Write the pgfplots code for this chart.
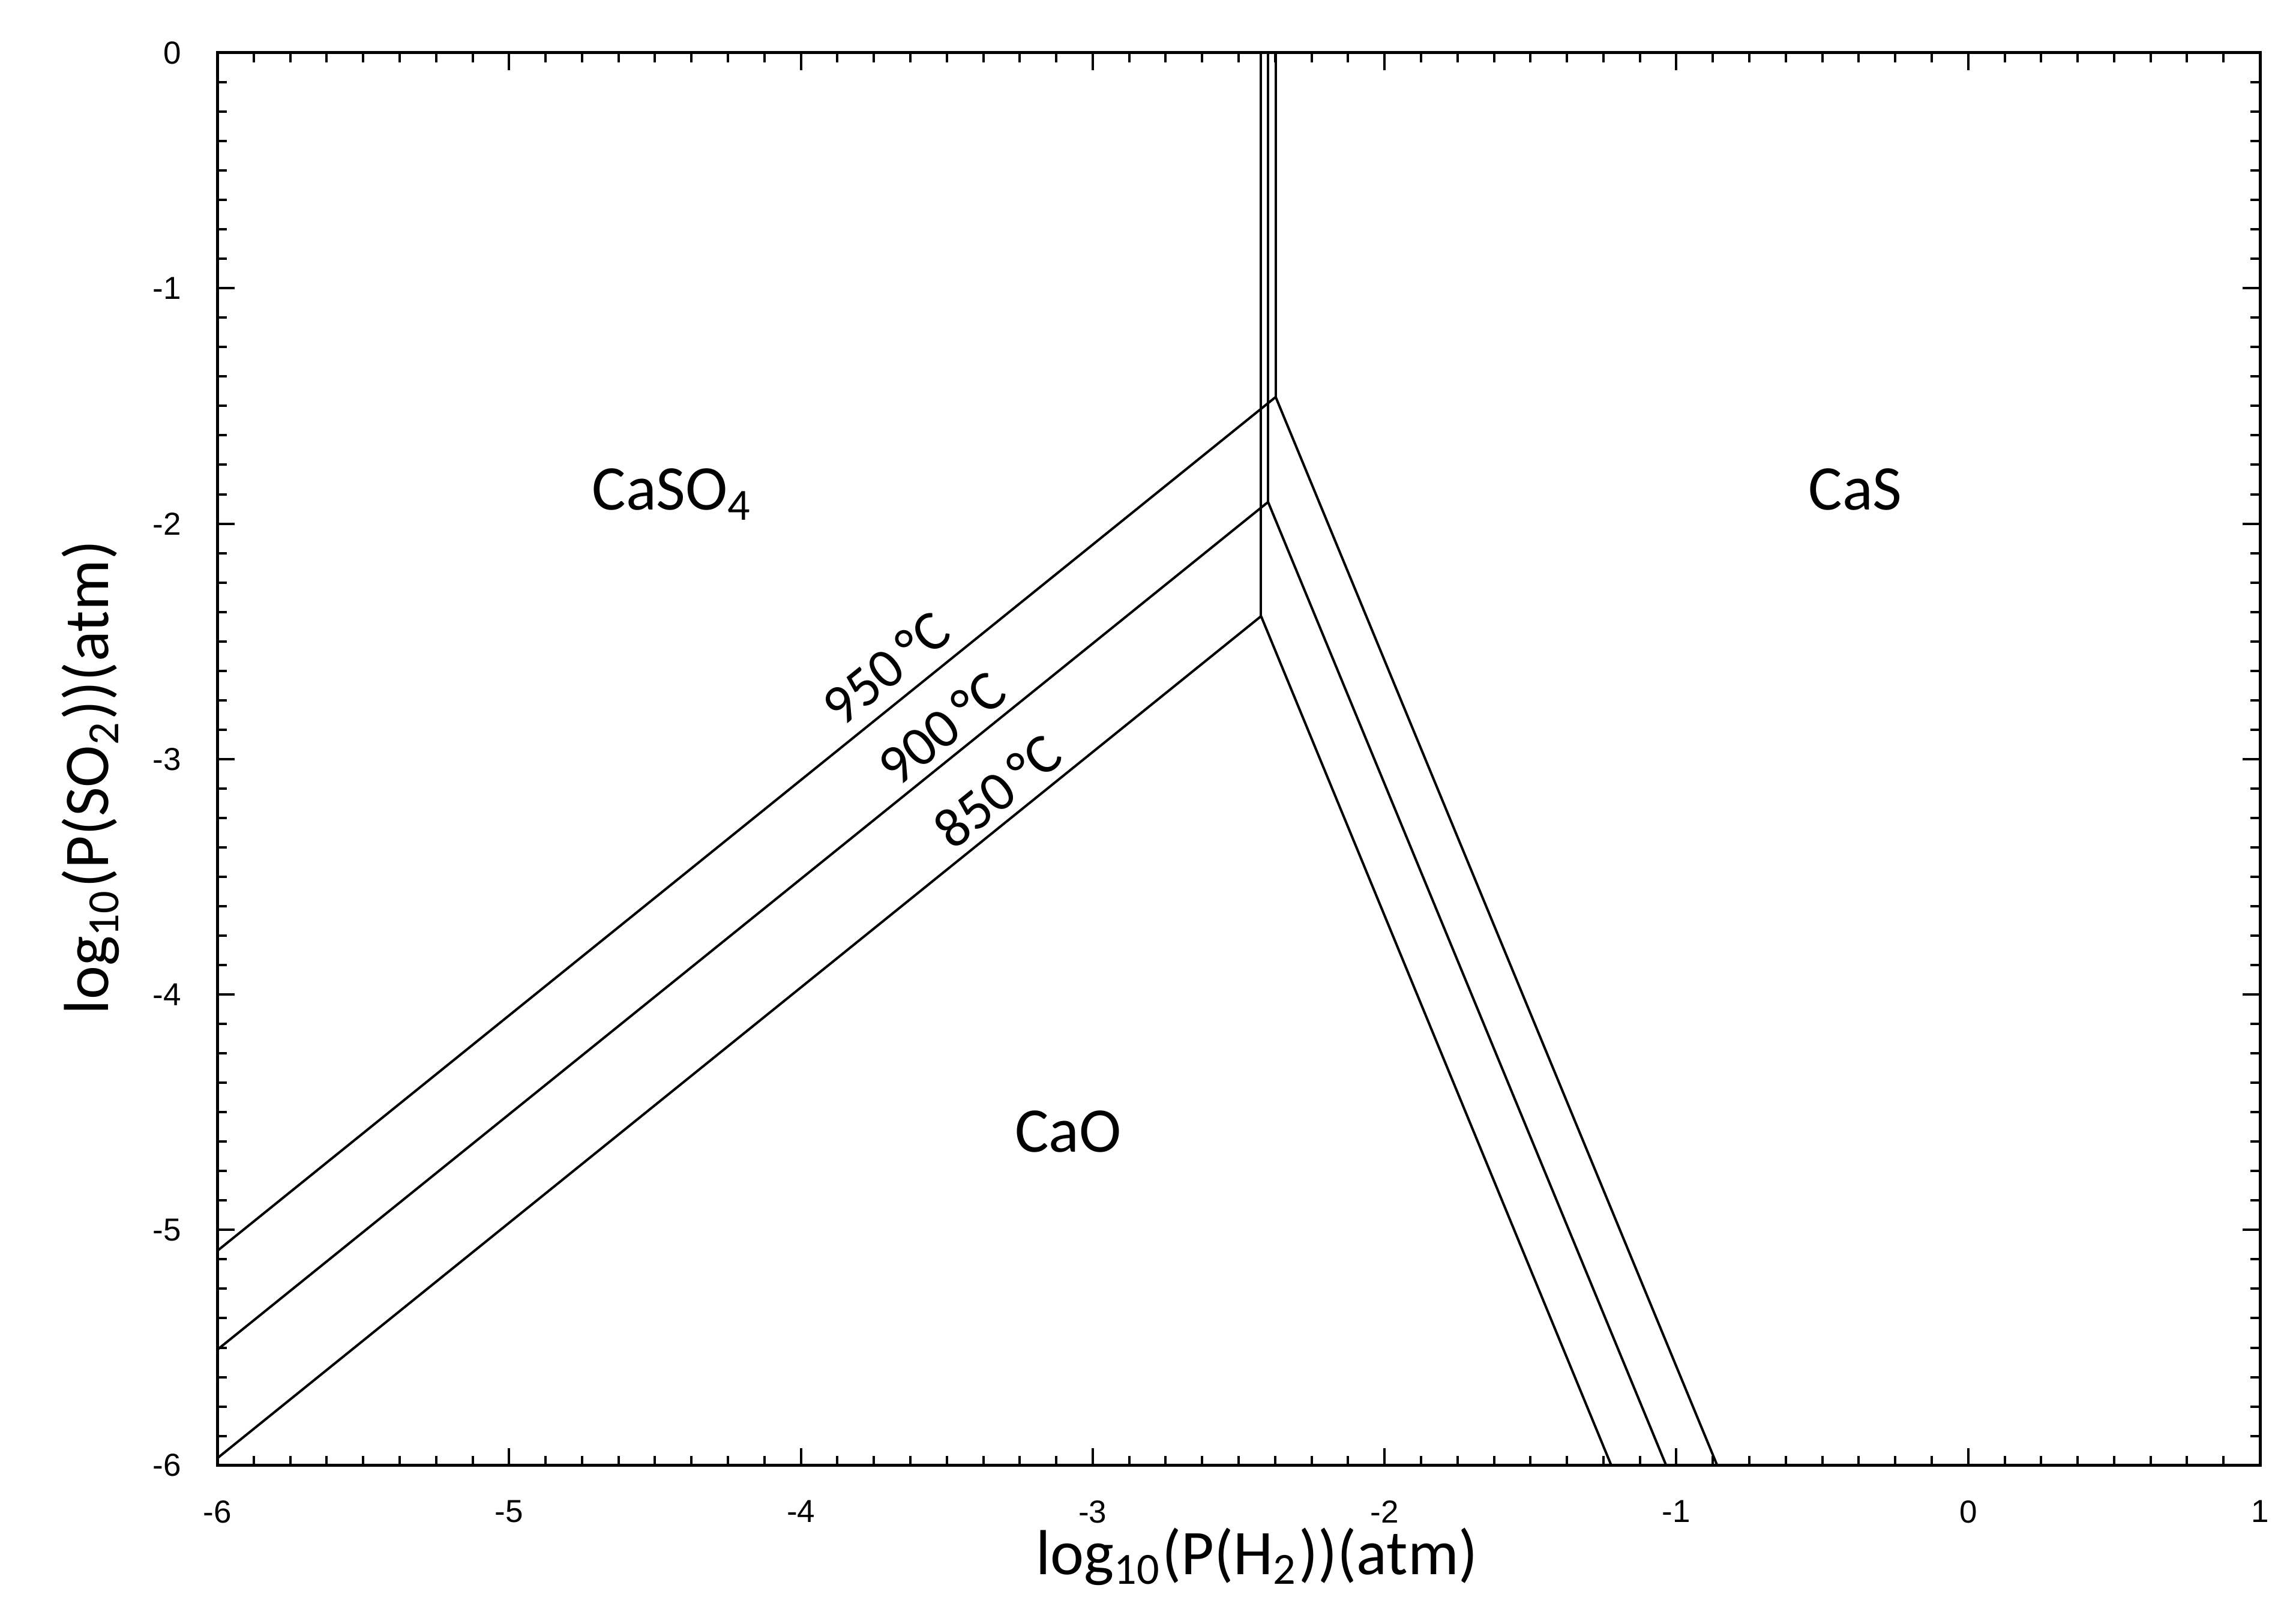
\documentclass[border=0pt]{standalone}
\usepackage{pgfplots}
\pgfplotsset{compat=1.18}
\usepackage{fontspec}
\setmainfont{Carlito}
\newfontfamily\tickfont{Liberation Sans}

\begin{document}
\begin{tikzpicture}
\begin{axis}[
  name=ax,
  scale only axis,
  width=340.4pt, height=235.37pt,
  xmin=-6, xmax=1, ymin=-6, ymax=0,
  xtick={-6,-5,-4,-3,-2,-1,0,1},
  ytick={-6,-5,-4,-3,-2,-1,0},
  xticklabels={-6,-5,-4,-3,-2,-1,0,1},
  yticklabels={-6,-5,-4,-3,-2,-1,0},
  minor tick num=7,
  tick align=inside,
  tick pos=both,
  xticklabel pos=lower, yticklabel pos=left,
  major tick length=2.9pt, minor tick length=1.6pt,
  every tick/.style={black, line width=0.4pt},
  axis line style={line width=0.5pt},
  tick label style={font=\tickfont\fontsize{5.3}{6}\selectfont},
  xticklabel style={yshift=-2.3pt},
  yticklabel style={xshift=-2.5pt},
  xlabel={log\textsubscript{10}(P(H\textsubscript{2}))(atm)},
  ylabel={log\textsubscript{10}(P(SO\textsubscript{2}))(atm)},
  label style={font=\fontsize{10.6}{13}\selectfont},
  xlabel style={at={(axis description cs:0.509,-0.0646)}, anchor=center},
  ylabel style={at={(axis description cs:-0.062,0.487)}, anchor=center},
]
% 850 C
\addplot[black, line width=0.4pt] coordinates {(-6,-5.970) (-2.423,-2.393) (-1.223,-6)};
\addplot[black, line width=0.4pt] coordinates {(-2.423,-2.393) (-2.423,0)};
% 900 C
\addplot[black, line width=0.4pt] coordinates {(-6,-5.509) (-2.399,-1.908) (-1.035,-6)};
\addplot[black, line width=0.4pt] coordinates {(-2.399,-1.908) (-2.399,0)};
% 950 C
\addplot[black, line width=0.4pt] coordinates {(-6,-5.089) (-2.373,-1.462) (-0.860,-6)};
\addplot[black, line width=0.4pt] coordinates {(-2.373,-1.462) (-2.373,0)};

\node[rotate=38.9, font=\fontsize{9.4}{11}\selectfont, inner sep=0pt] at (axis cs:-3.709,-2.613) {950\,°C};
\node[rotate=38.9, font=\fontsize{9.4}{11}\selectfont, inner sep=0pt] at (axis cs:-3.518,-2.868) {900\,°C};
\node[rotate=38.9, font=\fontsize{9.4}{11}\selectfont, inner sep=0pt] at (axis cs:-3.327,-3.135) {850\,°C};

\node[anchor=base, font=\fontsize{10.6}{12}\selectfont] at (axis cs:-4.439,-1.942) {CaSO\textsubscript{4}};
\node[anchor=base, font=\fontsize{10.6}{12}\selectfont] at (axis cs:-0.387,-1.942) {CaS};
\node[anchor=base, font=\fontsize{10.6}{12}\selectfont] at (axis cs:-3.084,-4.670) {CaO};
\end{axis}
\path (ax.south west) ++(-36.2pt,-24.93pt) rectangle ++(382.6pt,269.1pt);
\end{tikzpicture}
\end{document}
